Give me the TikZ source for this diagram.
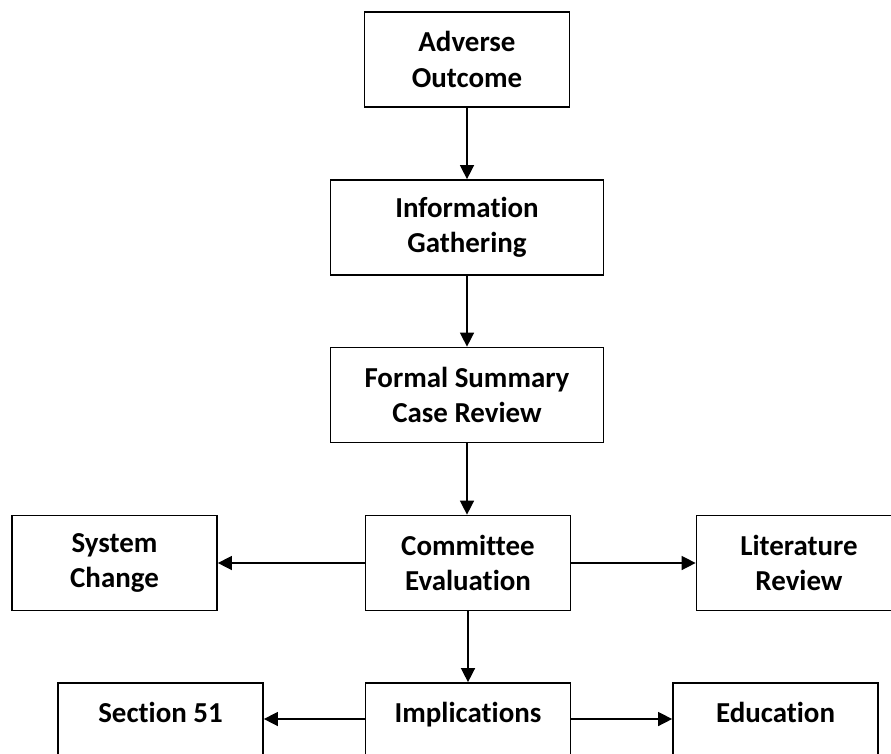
\documentclass[tikz,border=0pt]{standalone}
\usepackage{fontspec}
\setmainfont{Carlito}[Ligatures=NoCommon]
\usetikzlibrary{arrows.meta}

\begin{document}
\begin{tikzpicture}[x=0.75pt, y=-0.75pt,
		stepbox/.style={draw, line width=1.3pt, align=center, inner sep=0pt, font=\bfseries\fontsize{21.7}{26.5}\selectfont, minimum width=153.75pt, minimum height=71.25pt},
		widebox/.style={stepbox, minimum width=204.75pt},
		lowbox/.style={stepbox, minimum height=54pt, text height=14pt, text depth=9.5pt},
		arr/.style={line width=1.1pt, -{Triangle[length=10.5pt, width=10.5pt]}}]
		%%%%% START %%%%%
		
		\clip (0, 0) rectangle (891, 753);
		\useasboundingbox (0, 0) rectangle (891, 753);
		
		\node[stepbox] (adverse) at (467, 59.5) {Adverse\\Outcome};
		\node[widebox] (gathering) at (467, 227.5) {Information\\Gathering};
		\node[widebox] (summary) at (467, 395) {Formal Summary\\Case Review};
		\node[stepbox] (committee) at (468, 563) {Committee\\Evaluation};
		
		\node[stepbox] (system) at (114.5, 563) {System\\Change};
		\node[stepbox] (literature) at (799, 563) {Literature\\Review};
		
		\node[lowbox] (implications) at (468, 719) {Implications};
		\node[lowbox] (section) at (160.5, 719) {Section 51};
		\node[lowbox] (education) at (775.5, 719) {Education};
		
		\draw[arr] (adverse) -- (gathering);
		\draw[arr] (gathering) -- (summary);
		\draw[arr] (summary.south) -- (summary.south |- committee.north);
		\draw[arr] (committee) -- (implications);
		
		\draw[arr] (committee) -- (system);
		\draw[arr] (committee) -- (literature);
		\draw[arr] (implications) -- (section);
		\draw[arr] (implications) -- (education);
		
		%%%%% END %%%%%
	\end{tikzpicture}
\end{document}
